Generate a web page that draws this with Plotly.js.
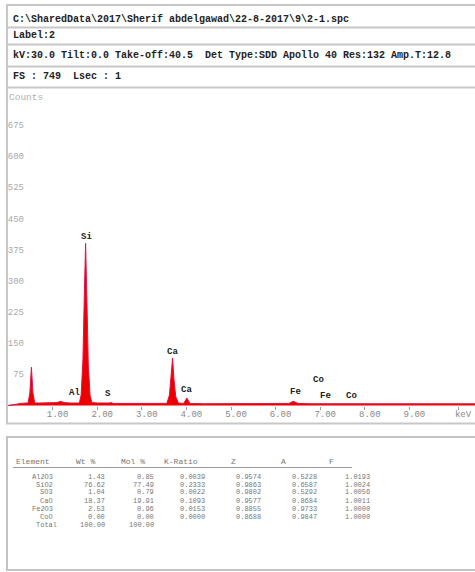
<!DOCTYPE html>
<html><head><meta charset="utf-8">
<script src="https://cdn.plot.ly/plotly-3.0.1.min.js"></script>
<style>html,body{margin:0;padding:0;background:#fff}#chart{width:475px;height:572px}</style>
</head><body><div id="chart"></div>
<script>
// ---- header texts ----
const headerLines = [
  "C:\\SharedData\\2017\\Sherif abdelgawad\\22-8-2017\\9\\2-1.spc",
  "Label:2",
  "kV:30.0 Tilt:0.0 Take-off:40.5  Det Type:SDD Apollo 40 Res:132 Amp.T:12.8",
  "FS : 749  Lsec : 1"
];
// ---- spectrum (keV, counts) ----
const energy = [0.00,0.10,0.20,0.30,0.40,0.45,0.49,0.525,0.56,0.60,0.70,0.85,1.00,1.10,1.18,1.26,1.40,1.46,1.49,1.53,1.60,1.64,1.68,1.71,1.74,1.77,1.80,1.84,1.88,2.00,2.20,2.27,2.31,2.36,2.60,3.00,3.30,3.56,3.62,3.66,3.69,3.72,3.76,3.82,3.94,4.01,4.08,4.40,5.00,6.00,6.30,6.40,6.50,6.80,6.93,7.06,7.20,8.00,9.00,10.00,10.47];
const counts = [0,2,4,5,6,6,30,92,30,6,6,6,6,7,10,7,6,6,7,6,6,25,110,260,390,250,100,25,7,6,5,6,7,5,5,5,5,5,25,70,114,65,22,6,5,18,5,4,4,4,5,10,5,4,4,5,4,4,4,4,4];
const bgEnergy = [0,0.3,1.0,2.0,4.0,10.47];
const bgCounts = [0,3,4,4,3,3];
// ---- peak labels ----
const peakNames = ["Si","Al","S","Ca","Ca","Fe","Co","Fe","Co"];
const peakKeV   = [1.77,1.50,2.24,3.68,4.01,6.45,6.97,7.11,7.71];
const peakY     = [406,31,28,129,37,32,61,24,23];
// ---- axis ticks ----
const xTickVals = [1,2,3,4,5,6,7,8,9,10.09];
const xTickText = ["1.00","2.00","3.00","4.00","5.00","6.00","7.00","8.00","9.00","keV"];
const yTickVals = [75,150,225,300,375,450,525,600,675];
// ---- quantification table ----
const tableHeader = ["Element","Wt %","Mol %","K-Ratio","Z","A","F"];
const elements = ["Al2O3","SiO2","SO3","CaO","Fe2O3","CoO","Total"];
const wtPct  = ["1.43","76.62","1.04","18.37","2.53","0.00","100.00"];
const molPct = ["0.85","77.49","0.79","19.91","0.96","0.00","100.00"];
const kRatio = ["0.0039","0.2333","0.0022","0.1093","0.0153","0.0000",""];
const zCol   = ["0.9574","0.9863","0.9802","0.9577","0.8855","0.8688",""];
const aCol   = ["0.5228","0.6587","0.5292","0.8684","0.9733","0.9847",""];
const fCol   = ["1.0193","1.0024","1.0056","1.0011","1.0000","1.0000",""];

const W=475,H=572,L=8,R=0,T=90,B=166;
const PW=W-L-R, PH=H-T-B;
const px=p=>(p-L)/PW, py=p=>(H-B-p)/PH;
const mono="Liberation Mono, Courier New, monospace";

const shapes=[];
const lc='#c8c8c8';
[5,27.5,44.5,66.5,87.5].forEach(y=>shapes.push({type:'line',xref:'paper',yref:'paper',x0:px(6),x1:px(476),y0:py(y),y1:py(y),line:{color:lc,width:2}}));
shapes.push({type:'line',xref:'paper',yref:'paper',x0:px(7),x1:px(7),y0:py(5),y1:py(423.5),line:{color:lc,width:2}});
shapes.push({type:'line',xref:'paper',yref:'paper',x0:px(6),x1:px(476),y0:py(423.5),y1:py(423.5),line:{color:lc,width:2}});
shapes.push({type:'rect',xref:'paper',yref:'paper',x0:px(7),x1:px(478),y0:py(437),y1:py(570),line:{color:'#c4c4c4',width:2}});
shapes.push({type:'line',xref:'paper',yref:'paper',x0:px(13),x1:px(352),y0:py(467.5),y1:py(467.5),line:{color:'#999',width:1}});

const ann=[];
const hy=[19.5,35.5,55.5,76.5];
headerLines.forEach((t,i)=>ann.push({xref:'paper',yref:'paper',x:px(11),y:py(hy[i]),text:t,showarrow:false,xanchor:'left',yanchor:'middle',font:{family:mono,size:10,color:'#222',weight:'bold'}}));
ann.push({xref:'paper',yref:'paper',x:px(7),y:py(97.5),text:"Counts",showarrow:false,xanchor:'left',yanchor:'middle',font:{family:mono,size:9.5,color:'#b0b0b0'}});
peakNames.forEach((n,i)=>ann.push({xref:'x',yref:'y',x:peakKeV[i],y:peakY[i],text:n,showarrow:false,xanchor:'center',yanchor:'middle',font:{family:mono,size:9,color:'#222',weight:'bold'}}));

// table
const hdrX=[15,75,120,163,230,280,328];
tableHeader.forEach((t,i)=>ann.push({xref:'paper',yref:'paper',x:px(hdrX[i]),y:py(461.5),text:t,showarrow:false,xanchor:'left',yanchor:'middle',borderpad:0,font:{family:mono,size:8,color:'#777'}}));
const rowY=[476.5,484.5,492.5,500.5,508.5,516.5,524.5];
const cols=[elements,wtPct,molPct,kRatio,zCol,aCol,fCol];
const colRight=[52,104,152.5,204,260,316,369];
cols.forEach((col,c)=>col.forEach((v,r)=>{
  if(!v) return;
  let xr=colRight[c]; if(c===0 && r===elements.length-1) xr=56;
  ann.push({xref:'paper',yref:'paper',x:px(xr),y:py(rowY[r]),text:v,showarrow:false,xanchor:'right',yanchor:'middle',borderpad:0,xshift:2,font:{family:mono,size:7,color:'#777'}});
}));

const data=[
  {x:bgEnergy,y:bgCounts,type:'scatter',mode:'lines',line:{color:'#7a7fd0',width:1},hoverinfo:'skip'},
  {x:energy,y:counts,type:'scatter',mode:'lines',fill:'tozeroy',fillcolor:'rgb(236,0,0)',line:{color:'rgb(230,20,60)',width:1},hoverinfo:'skip'}
];
const layout={
  width:W,height:H,margin:{l:L,r:R,t:T,b:B},paper_bgcolor:'#fff',plot_bgcolor:'#fff',showlegend:false,
  xaxis:{range:[0,PW/44.6],showgrid:false,zeroline:false,showline:false,tickvals:xTickVals,ticktext:xTickText,ticks:'outside',ticklen:3,tickcolor:'#999',ticklabelshift:5,ticklabelstandoff:-4,tickfont:{family:mono,size:9,color:'#888'}},
  yaxis:{range:[-1.2,759],showgrid:false,zeroline:false,showline:false,anchor:'free',position:px(24),side:'left',tickvals:yTickVals,ticks:'',tickfont:{family:mono,size:9,color:'#aaa'}},
  shapes:shapes,annotations:ann
};
Plotly.newPlot('chart',data,layout,{staticPlot:true});
</script></body></html>
